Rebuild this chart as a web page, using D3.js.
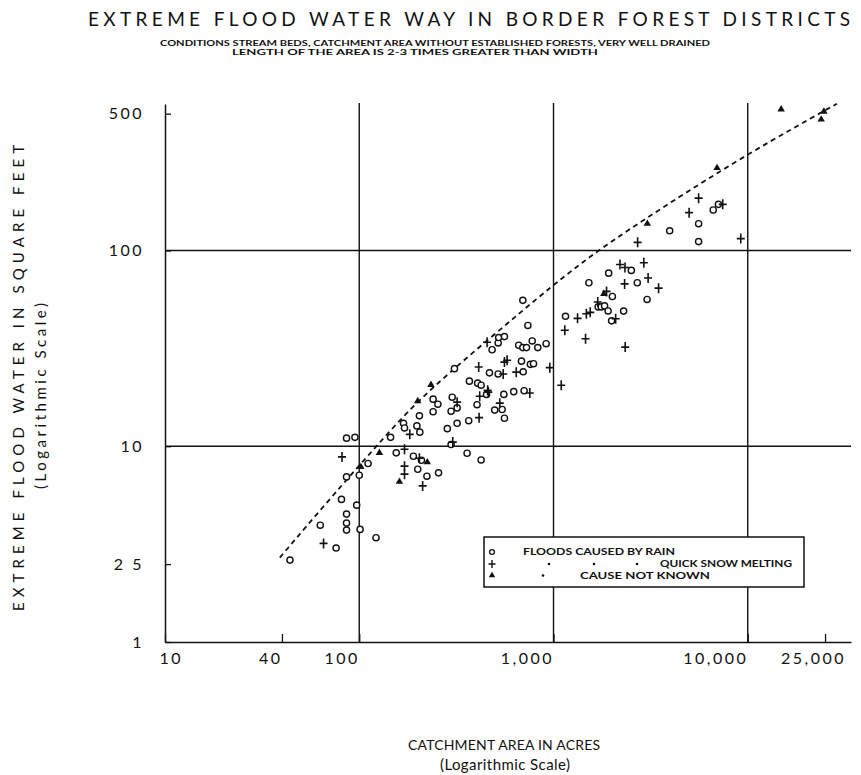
<!DOCTYPE html>
<html>
<head>
<meta charset="utf-8">
<script src="https://cdn.jsdelivr.net/npm/d3@7"></script>
<style>
  body { margin: 0; background: #fff; }
  svg text { font-family: Lato, "Open Sans", sans-serif; fill: #111; }
</style>
</head>
<body>
<div id="chart"></div>
<script>
// --- datos ---
const rainArea = [44,63,76,81,86,86,86,97,101,122,86,100,86,95,145,155,111,190,209,200,
  223,256,169,171,198,205,204,240,240,254,301,319,297,319,284,297,359,424,366,309,
  369,407,424,452,555,624,706,404,498,544,559,468,519,698,684,760,789,483,519,522,
  559,662,695,726,777,830,916,738,695,1153,1521,1698,1761,1832,1910,2009,1991,2296,1923,2516,
  2700,3033,3963,5585,5585,6640,7063];
const rainFlood = [2.62,3.95,3.02,5.35,4.5,4.05,3.73,5.0,3.76,3.41,6.97,7.11,11.0,11.1,11.1,9.25,8.16,8.89,8.48,7.63,
  7.03,7.31,13.1,12.4,12.7,11.8,14.3,15.0,17.4,16.4,17.8,15.7,15.1,13.1,12.3,10.2,9.21,8.51,13.5,24.9,
  21.5,21.0,20.5,18.4,18.4,19.0,19.2,16.3,15.3,15.4,13.9,23.7,23.4,24.0,27.2,26.2,26.4,31.1,33.7,35.9,
  36.3,32.8,31.9,31.9,34.5,31.9,33.4,41.4,55.6,46.1,68.4,51.5,51.5,52.1,49.1,58.2,43.7,49.0,76.6,79.1,
  68.4,56.2,126,137,111,161,172];

const snowArea = [65.5,81.5,171,171,171,212,204,182,319,303,414,412,559,577,551,643,957,458,462,755,
  417,529,455,1096,1143,1330,1476,1546,1462,1690,1875,2089,2339,2198,2333,2323,2917,3069,3475,2711,
  4990,5585,7430,9204];
const snowFlood = [3.19,8.82,9.65,7.91,7.2,6.27,8.68,11.5,16.8,10.5,14.0,25.4,26.9,27.5,23.4,23.9,25.2,19.3,18.9,18.7,
  18.0,16.6,34.0,20.5,39.1,45.0,47.5,48.3,35.4,54.5,61.8,44.8,32.1,84.8,81.9,67.5,86.5,72.4,64.2,110,
  156,185,172,115];

const unknownArea = [102,127,161,224,200,234,1816,3040,6950,14860,23880,24660];
const unknownFlood = [7.84,9.25,6.59,8.29,17.0,20.6,60.1,137,264,526,467,512];

// curva envolvente (discontinua)
const curveArea = [39,73,117,199,455,1000,1710,3570,10200,28800];
const curveFlood = [2.7,5.6,9.5,17.2,34.7,67,101,164,316,562];

const xTicks = [10,40,100,1000,10000,25000];
const xTickLabels = ["10","40","100","1,000","10,000","25,000"];
const yTicks = [1,2.5,10,100,500];
const yTickLabels = ["1","2 5","10","100","500"];
const xGrid = [100,1000,10000];
const yGrid = [10,100];

const legendLabels = ["FLOODS CAUSED BY RAIN","QUICK SNOW MELTING","CAUSE NOT KNOWN"];

// --- SVG ---
const width = 861, height = 775;
const svg = d3.select("#chart").append("svg")
    .attr("width", width)
    .attr("height", height);

const x = d3.scaleLog().domain([10, 34000]).range([165, 851]);
const y = d3.scaleLog().domain([1, 560]).range([642, 104]);

const ink = "#111";

// --- Titulos ---
svg.append("text")
    .attr("x", 88).attr("y", 26)
    .attr("textLength", 762).attr("lengthAdjust", "spacing")
    .style("font-size", "19px")
    .text("EXTREME FLOOD WATER WAY IN BORDER FOREST DISTRICTS");

svg.append("text")
    .attr("x", 160).attr("y", 45.5)
    .attr("textLength", 550).attr("lengthAdjust", "spacingAndGlyphs")
    .style("font-size", "7px").style("font-weight", "bold")
    .text("CONDITIONS  STREAM BEDS,  CATCHMENT  AREA  WITHOUT  ESTABLISHED  FORESTS,  VERY  WELL  DRAINED");

svg.append("text")
    .attr("x", 232).attr("y", 55)
    .attr("textLength", 366).attr("lengthAdjust", "spacingAndGlyphs")
    .style("font-size", "7px").style("font-weight", "bold")
    .text("LENGTH  OF  THE  AREA  IS  2-3  TIMES  GREATER  THAN  WIDTH");

// --- Rejilla ---
svg.append("g").selectAll("line")
    .data(xGrid).enter().append("line")
    .attr("x1", d => x(d)).attr("x2", d => x(d))
    .attr("y1", y(1)).attr("y2", 103)
    .attr("stroke", ink).attr("stroke-width", 1.4);

svg.append("g").selectAll("line")
    .data(yGrid).enter().append("line")
    .attr("x1", x(10)).attr("x2", 851)
    .attr("y1", d => y(d)).attr("y2", d => y(d))
    .attr("stroke", ink).attr("stroke-width", 1.4);

// --- Ejes ---
const xAxis = svg.append("g")
    .attr("transform", `translate(0,${y(1)})`)
    .call(d3.axisBottom(x)
        .tickValues(xTicks)
        .tickFormat((d, i) => xTickLabels[i])
        .tickSize(-8).tickSizeOuter(0).tickPadding(11));

const yAxis = svg.append("g")
    .attr("transform", `translate(${x(10)},0)`)
    .call(d3.axisLeft(y)
        .tickValues(yTicks)
        .tickFormat((d, i) => yTickLabels[i])
        .tickSize(-6).tickSizeOuter(0).tickPadding(21));

[xAxis, yAxis].forEach(g => {
    g.select(".domain").attr("stroke", ink).attr("stroke-width", 1.5);
    g.selectAll(".tick line").attr("stroke", ink).attr("stroke-width", 1.3);
    g.selectAll(".tick text")
        .attr("fill", ink)
        .style("font-family", "Lato, sans-serif")
        .style("font-size", "16px")
        .style("letter-spacing", "2.5px");
});

xAxis.selectAll(".tick text")
    .attr("text-anchor", d => d === 10 ? "start" : (d === 25000 ? "middle" : "end"))
    .attr("dx", d => d === 10 ? -6 : (d === 25000 ? -12 : 0));

// --- Titulos de ejes ---
svg.append("text")
    .attr("transform", "translate(24,378) rotate(-90)")
    .attr("text-anchor", "middle")
    .attr("textLength", 466).attr("lengthAdjust", "spacing")
    .style("font-size", "15px")
    .text("EXTREME FLOOD WATER IN SQUARE FEET");

svg.append("text")
    .attr("transform", "translate(46,396) rotate(-90)")
    .attr("text-anchor", "middle")
    .attr("textLength", 186).attr("lengthAdjust", "spacing")
    .style("font-size", "15px")
    .text("(Logarithmic Scale)");

svg.append("text")
    .attr("x", 504).attr("y", 750)
    .attr("text-anchor", "middle")
    .attr("textLength", 192).attr("lengthAdjust", "spacing")
    .style("font-size", "14px")
    .text("CATCHMENT AREA IN ACRES");

svg.append("text")
    .attr("x", 505).attr("y", 770)
    .attr("text-anchor", "middle")
    .attr("textLength", 130).attr("lengthAdjust", "spacing")
    .style("font-size", "15px")
    .text("(Logarithmic Scale)");

// --- Curva envolvente ---
const curveData = curveArea.map((a, i) => [a, curveFlood[i]]);
svg.append("path")
    .datum(curveData)
    .attr("fill", "none")
    .attr("stroke", ink)
    .attr("stroke-width", 1.8)
    .attr("stroke-dasharray", "5,4")
    .attr("d", d3.line().x(d => x(d[0])).y(d => y(d[1])).curve(d3.curveBasis));

// --- Puntos ---
const rain = rainArea.map((a, i) => ({ a, f: rainFlood[i] }));
const snow = snowArea.map((a, i) => ({ a, f: snowFlood[i] }));
const unknown = unknownArea.map((a, i) => ({ a, f: unknownFlood[i] }));

const plusPath = "M-4,0H4M0,-5V5";
const triPath = d3.symbol().type(d3.symbolTriangle).size(24)();

svg.append("g").selectAll("circle")
    .data(rain).enter().append("circle")
    .attr("cx", d => x(d.a)).attr("cy", d => y(d.f))
    .attr("r", 3.1)
    .attr("fill", "#fff").attr("stroke", ink).attr("stroke-width", 1.4);

svg.append("g").selectAll("path")
    .data(snow).enter().append("path")
    .attr("transform", d => `translate(${x(d.a)},${y(d.f)})`)
    .attr("d", plusPath)
    .attr("stroke", ink).attr("stroke-width", 1.6);

svg.append("g").selectAll("path")
    .data(unknown).enter().append("path")
    .attr("transform", d => `translate(${x(d.a)},${y(d.f)})`)
    .attr("d", triPath)
    .attr("fill", ink);

// --- Leyenda ---
const legend = svg.append("g");
legend.append("rect")
    .attr("x", 484).attr("y", 537).attr("width", 320).attr("height", 50)
    .attr("fill", "#fff").attr("stroke", ink).attr("stroke-width", 1.5);

const rowY = [552, 564, 575.5];
legend.append("circle")
    .attr("cx", 492).attr("cy", rowY[0]).attr("r", 2.4)
    .attr("fill", "#fff").attr("stroke", ink).attr("stroke-width", 1.3);
legend.append("path")
    .attr("transform", `translate(492,${rowY[1]})`)
    .attr("d", "M-3.5,0H3.5M0,-4V4")
    .attr("stroke", ink).attr("stroke-width", 1.4);
legend.append("path")
    .attr("transform", `translate(492,${rowY[2]})`)
    .attr("d", d3.symbol().type(d3.symbolTriangle).size(18)())
    .attr("fill", ink);

const legendText = [
    { x: 523, len: 152 },
    { x: 660, len: 132 },
    { x: 580, len: 130 }
];
legend.selectAll("text.lab")
    .data(legendLabels).enter().append("text")
    .attr("class", "lab")
    .attr("x", (d, i) => legendText[i].x)
    .attr("y", (d, i) => rowY[i] + 3)
    .attr("textLength", (d, i) => legendText[i].len)
    .attr("lengthAdjust", "spacingAndGlyphs")
    .style("font-size", "8.5px").style("font-weight", "bold")
    .text(d => d);

// comillas (ditto)
const dittos = [[549, 1], [594, 1], [637, 1], [543, 2]];
legend.selectAll("circle.ditto")
    .data(dittos).enter().append("circle")
    .attr("class", "ditto")
    .attr("cx", d => d[0]).attr("cy", d => rowY[d[1]])
    .attr("r", 1.3).attr("fill", ink);
</script>
</body>
</html>
